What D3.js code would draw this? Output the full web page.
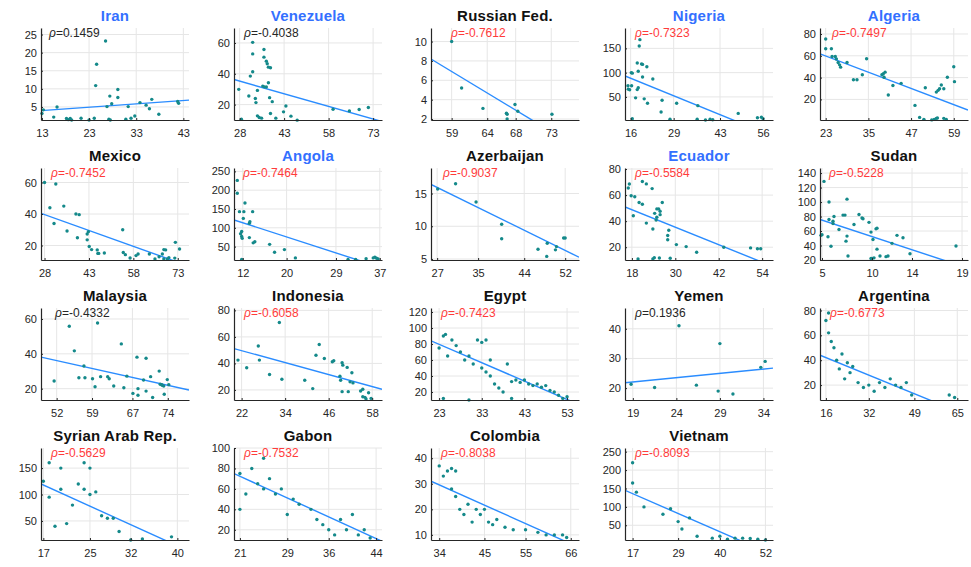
<!DOCTYPE html>
<html>
<head>
<meta charset="utf-8">
<script src="https://cdn.jsdelivr.net/npm/d3@7"></script>
<style>
  body { margin: 0; background: #fff; }
  svg { display: block; font-family: "Liberation Sans", Arial, Helvetica, sans-serif; }
</style>
</head>
<body>
<svg id="chart" width="971" height="567"></svg>
<script>
// ---- panel metadata ----
const countries = ["Iran", "Venezuela", "Russian Fed.", "Nigeria", "Algeria",
  "Mexico", "Angola", "Azerbaijan", "Ecuador", "Sudan",
  "Malaysia", "Indonesia", "Egypt", "Yemen", "Argentina",
  "Syrian Arab Rep.", "Gabon", "Colombia", "Vietnam"];
const opecMember = [true, true, false, true, true,
  false, true, false, true, false,
  false, false, false, false, false,
  false, false, false, false];
const rhoValues = ["0.1459", "-0.4038", "-0.7612", "-0.7323", "-0.7497",
  "-0.7452", "-0.7464", "-0.9037", "-0.5584", "-0.5228",
  "-0.4332", "-0.6058", "-0.7423", "0.1936", "-0.6773",
  "-0.5629", "-0.7532", "-0.8038", "-0.8093"];
const rhoSignificant = [false, false, true, true, true,
  true, true, true, true, true,
  false, true, true, false, true,
  true, true, true, true];

// ---- axis ticks and limits ----
const xTicks = [[13, 23, 33, 43], [28, 43, 58, 73], [59, 64, 68, 73], [16, 29, 43, 56], [23, 35, 47, 59],
  [28, 43, 58, 73], [12, 20, 29, 37], [27, 35, 44, 52], [18, 30, 42, 54], [5, 10, 14, 19],
  [52, 59, 67, 74], [22, 34, 46, 58], [23, 33, 43, 53], [19, 24, 29, 34], [16, 32, 49, 65],
  [17, 25, 32, 40], [21, 29, 36, 44], [34, 45, 55, 66], [17, 29, 40, 52]];
const yTicks = [[5, 10, 15, 20, 25], [20, 40, 60], [2, 4, 6, 8, 10], [50, 100, 150], [20, 40, 60, 80],
  [20, 40, 60], [50, 100, 150, 200, 250], [5, 10, 15], [20, 40, 60, 80], [20, 40, 60, 80, 100, 120, 140],
  [20, 40, 60], [20, 40, 60, 80], [20, 40, 60, 80, 100, 120], [20, 30, 40], [20, 40, 60, 80],
  [50, 100, 150], [20, 40, 60, 80, 100], [10, 20, 30, 40], [50, 100, 150, 200, 250]];
const xLimits = [[12.8, 44.2], [26.1, 76], [56.1, 76.9], [14.3, 59], [21.4, 63],
  [26.8, 76.8], [10.4, 37.4], [25.8, 54.7], [16.1, 57], [4.8, 19.6],
  [48.9, 78.2], [19.9, 60.7], [21.1, 55.8], [18.1, 35.1], [13.8, 69],
  [16.6, 42], [20, 45], [32, 68], [15, 54]];
const yLimits = [[1.4, 26.8], [10, 69.7], [1.9, 11.4], [2.4, 192], [1.1, 85.5],
  [10.8, 69.2], [14.4, 259], [4.85, 18.9], [10.2, 80.8], [20, 147],
  [13.5, 66.3], [12.4, 81.8], [10, 125], [16, 47], [8, 82],
  [14, 188], [10, 100], [8, 44], [10, 260]];

// ---- least-squares fit lines (value at left limit, slope) ----
const fitStart = [4.0, 36.3, 8.2, 93.2, 61.8,
  40.4, 121, 16.4, 50.9, 75.9,
  38.1, 51.2, 84, 21.8, 44,
  120, 75, 31, 145];
const fitSlope = [0.092, -0.547, -0.444, -2.78, -1.24,
  -0.671, -4.72, -0.385, -1.118, -4.54,
  -0.645, -0.752, -2.3, 0.29, -0.88,
  -5.0, -2.65, -0.72, -4.5];

// ---- observations per country [x, y] ----
const iran = [[13, 3.2], [13.3, 4.2], [16.2, 5.0], [15.5, 2.2], [18.2, 1.8], [18.6, 1.5], [19, 1.8], [19.3, 1.4],
  [21.3, 1.9], [23, 1.4], [24.1, 1.9], [24.6, 16.8], [24.4, 10.9], [26.5, 23.2], [27.4, 8.0], [26.8, 5.1],
  [27.8, 5.9], [27.2, 1.6], [27.5, 1.4], [29.1, 9.8], [29.1, 7.6], [30.8, 1.6], [31.3, 5.1], [31.9, 1.9],
  [32.7, 2.5], [33.8, 6.2], [35.1, 5.5], [35.8, 4.5], [36.3, 7.1], [37.8, 3.0], [41.8, 6.5], [42, 6.0]];
const venezuela = [[27.7, 29.9], [28.6, 10.5], [31.1, 25.6], [32.4, 60.4], [32.4, 52.9], [31.6, 38.5], [32.4, 41.3],
  [33.3, 24], [33.5, 21.3], [34, 29.2], [34, 12.7], [34.6, 11.6], [35.4, 11.2], [35.8, 32], [36.3, 31.5],
  [36.2, 55.7], [36.2, 50.8], [37, 48.2], [37.3, 46.5], [37.7, 44.3], [38.4, 43.9], [37, 31.4], [37.7, 34.2],
  [38.1, 24.5], [39, 21.9], [38.4, 14.2], [40.2, 11.2], [42.8, 15.3], [43.6, 19.1], [45.3, 12.5], [47.4, 9.9],
  [59.5, 17], [65, 15.9], [68.3, 16.8], [71.4, 18.1]];
const russia = [[59, 10], [60.4, 5.2], [63.4, 3.1], [66.7, 2.6], [66.8, 2.5], [66.8, 2.0], [67.9, 3.5], [68.3, 2.8], [73.1, 2.5]];
const nigeria = [[15.2, 73], [15.7, 64.6], [15.3, 66], [16.2, 100], [16.5, 99], [16.3, 73], [16.5, 5], [17.5, 48],
  [18, 65], [18.3, 69], [18, 120], [18.3, 103], [18.6, 155], [18.8, 168], [19.3, 118], [19.6, 117],
  [19.6, 91], [20.1, 46], [21.1, 37], [20.9, 112], [22.7, 87], [25.2, 19], [25.5, 43], [27.9, 4],
  [29.9, 37], [36.3, 32], [36.1, 4], [38.6, 2.5], [40, 4], [40.8, 3], [48.5, 16], [54.3, 7], [55.5, 8], [56, 5]];
const algeria = [[23, 75.4], [23, 66.4], [24.6, 66.4], [24.8, 59.4], [25.7, 59.4], [26, 57], [26.5, 53.9], [26.9, 51.7],
  [27.2, 49.6], [29, 53.9], [30.8, 38], [31.8, 38], [33.3, 42.6], [34.5, 57.3], [38.8, 42.6], [39.2, 43.5],
  [39.7, 45], [39.4, 40.3], [40.6, 24], [41.9, 32.8], [44.2, 34.7], [48.1, 14.5], [49.4, 3.5], [50.6, 1.7],
  [51, 30.7], [52.8, 1.2], [53.5, 1.7], [54.1, 2.6], [54.4, 3.0], [54.1, 26.7], [54.6, 28.3], [55, 29.8],
  [55.5, 33.2], [56.2, 29.8], [56.2, 2.6], [56.9, 1.7], [57.2, 40.3], [59, 50], [59.2, 36.3]];
const mexico = [[28, 60], [29.8, 44], [31.2, 34], [31.8, 59], [34.5, 45], [35.6, 29.2], [38.6, 40], [39.7, 39.6],
  [39.1, 24.9], [42.4, 23.6], [42.4, 27.3], [42.8, 28.8], [43.1, 19.4], [43.9, 17.4], [45.8, 17.2], [46, 15],
  [46.3, 15], [48.2, 15.2], [54.4, 30], [54.6, 15.6], [55.3, 14.2], [56.9, 12.1], [58.9, 13.6], [59.6, 14.6],
  [63.4, 14.6], [65.3, 11.4], [66.7, 12.9], [67.8, 14.6], [68.3, 17.4], [68.9, 17.2], [68.3, 11.4], [69.5, 11.4],
  [70, 12.3], [72.2, 22], [73.6, 17.8], [72, 12]];
const angola = [[11, 226], [11, 192], [11.4, 143], [11.8, 90], [11.6, 84], [11.8, 77], [11.9, 72], [11.8, 16],
  [12.2, 143], [12.1, 125], [12.4, 166], [13.2, 112], [13.3, 116], [13.2, 74], [13.8, 143], [13.9, 60],
  [14.2, 63], [16.9, 56], [17.8, 35], [19.6, 42], [21.6, 20], [31.2, 16], [32.6, 16], [34.5, 18],
  [35.8, 20], [36.1, 22], [36.4, 19], [36.7, 17]];
const azerbaijan = [[27.1, 15.7], [30.6, 16.5], [34.6, 13.7], [39.6, 10.3], [39.6, 8.1], [46.7, 6.5], [48.4, 5.4],
  [48.5, 7.4], [50.1, 6.4], [50.3, 6.9], [51.7, 8.2], [52, 8.2]];
const ecuador = [[17, 65.4], [17.3, 68.5], [17.8, 59.5], [18.8, 58.7], [18.4, 44.2], [19.7, 11], [20, 54.3], [20.9, 53],
  [20.9, 70.4], [22, 68.6], [22, 38.5], [23.6, 65], [23.8, 34], [23.8, 11], [24.2, 12], [24.3, 46],
  [24.7, 40.9], [24.9, 43], [24.9, 49.4], [25.4, 49.4], [25.6, 11.7], [25.8, 45], [25.8, 47.6], [26.4, 54.3],
  [27.9, 25.7], [27.9, 29], [28.2, 33], [28.6, 11.6], [30.3, 22], [33, 20.5], [35.9, 16.1], [43.4, 20],
  [50.8, 19.5], [52.7, 18.8], [53.6, 18.8]];
const sudan = [[5.2, 128.5], [5, 55], [4.9, 54], [5.7, 76], [5.6, 52], [5.7, 100], [5.9, 39], [6.1, 73.6],
  [6.2, 80], [6.1, 70.4], [6.7, 62], [7.1, 82], [7.3, 82], [7.4, 46], [7.5, 53], [7.5, 104],
  [7.6, 25.5], [8.2, 69], [8.7, 82.8], [9, 78], [9.1, 77], [9.7, 72], [9.9, 58.5], [10, 22],
  [9.9, 22], [10.1, 48.4], [10.4, 63], [10.5, 64], [10.5, 35], [10.2, 23], [10.8, 25.5], [11.4, 24.6],
  [11.6, 25.5], [12, 43], [12.5, 54], [13.1, 50.7], [13.8, 28.7], [18.4, 39.3]];
const malaysia = [[51.5, 24.4], [54.5, 55.8], [55.5, 41.7], [56.4, 26.3], [57.6, 26.3], [57.4, 33], [59.1, 25.7],
  [59.6, 21.1], [60.1, 57.7], [60.7, 26.9], [62.1, 26.9], [62.4, 25.7], [63.3, 21.5], [64.8, 45.7], [65.3, 20.5],
  [65.9, 27.2], [67.1, 17.3], [67.9, 38.1], [68.1, 20], [68.1, 16.2], [69.2, 25], [69.7, 37.5], [69.7, 18.6],
  [70.6, 26.9], [71, 14.9], [72.3, 30.1], [72.5, 22.5], [72.8, 22.3], [72.9, 21.9], [73.2, 21.5], [73.3, 16.8],
  [73.9, 25.2], [74.2, 22.3]];
const indonesia = [[21, 42.5], [23.4, 36.7], [26.6, 53.1], [26.9, 42.5], [29.7, 31.6], [32.4, 70.9], [33.1, 28.1],
  [39.4, 27.3], [41.6, 21], [42.5, 46.2], [43.4, 54.3], [44.8, 43.7], [47, 41.2], [47.4, 42], [49.1, 30.4],
  [49.3, 27.3], [49.7, 40.5], [49.9, 38.7], [49.7, 18.7], [51.1, 37], [51.4, 18.7], [51.9, 26.1], [52.4, 33],
  [52.7, 25.3], [54.8, 19.2], [55.4, 20.5], [55.4, 14.9], [56, 14.4], [56.3, 13.2], [57, 17.9], [57.7, 13.6]];
const egypt = [[23, 75], [24, 90], [24.5, 92], [25, 65], [26, 85], [27, 78], [28, 70], [29, 60], [30, 65], [31, 55],
  [32, 85], [33, 82], [33, 50], [34, 85], [34, 45], [35, 40], [35, 60], [36, 30], [37, 25], [38, 20],
  [39, 55], [40, 33], [41, 35], [42, 32], [43, 35], [44, 30], [45, 28], [46, 30], [47, 26], [48, 28],
  [49, 22], [50, 20], [51, 16], [52, 12], [53, 14], [24, 12], [30, 10], [40, 12]];
const yemen = [[18.8, 21.3], [21.5, 20.2], [24.3, 41], [26.3, 21], [28.8, 19], [29, 35], [30.5, 18], [33.7, 27], [34.2, 29]];
const argentina = [[16, 72], [17, 62], [17, 78], [18, 55], [19, 50], [20, 40], [21, 33], [22, 45], [23, 25], [24, 38],
  [25, 30], [26, 35], [28, 22], [30, 18], [32, 20], [34, 15], [36, 22], [38, 18], [40, 25], [42, 20],
  [44, 18], [46, 22], [48, 12], [62, 12], [64, 10]];
const syria = [[17, 125], [18, 160], [18, 95], [19, 40], [20, 150], [20, 110], [21, 45], [22, 80], [23, 120], [24, 110],
  [24, 160], [25, 150], [25, 100], [26, 105], [27, 60], [28, 55], [29, 55], [30, 30], [32, 14], [34, 16], [39, 20]];
const gabon = [[21, 75], [21, 40], [22, 55], [23, 80], [24, 65], [25, 90], [25, 60], [26, 70], [27, 55], [28, 60],
  [29, 35], [30, 50], [31, 45], [33, 40], [34, 30], [35, 25], [36, 20], [37, 15], [38, 30], [39, 20],
  [40, 35], [41, 15], [42, 20], [43, 12]];
const colombia = [[34, 37], [35, 33], [36, 35], [37, 36], [38, 35], [37, 28], [38, 25], [39, 20], [40, 18], [41, 22],
  [42, 15], [43, 20], [44, 18], [45, 20], [46, 15], [47, 14], [48, 16], [50, 13], [52, 12], [55, 12],
  [58, 11], [60, 10], [62, 10], [64, 10], [65, 9]];
const vietnam = [[17, 220], [17, 165], [18, 140], [20, 100], [25, 80], [27, 95], [29, 60], [30, 40], [32, 70], [34, 20],
  [38, 15], [40, 20], [42, 12], [44, 15], [46, 15], [48, 14], [50, 12], [52, 10]];

const observations = [iran, venezuela, russia, nigeria, algeria,
  mexico, angola, azerbaijan, ecuador, sudan,
  malaysia, indonesia, egypt, yemen, argentina,
  syria, gabon, colombia, vietnam];

// ---- layout ----
const colLeft = [41, 234, 431, 625, 820];
const rowTop = [28, 168, 308, 448];
const plotW = 148, plotH = 92;
const rhoInset = [8, 10, 20, 10, 12, 10, 9, 12, 10, 9, 14, 10, 10, 10, 10, 10, 10, 10, 10];

const colors = {
  axis: "#262626", grid: "#e6e6e6", dot: "#14898a", fit: "#2a8cff",
  titleOpec: "#3370ff", titleOther: "#111", rhoSig: "#ff3b3b", rhoPlain: "#262626"
};

const svg = d3.select("#chart");
const fmt = d3.format("d");

countries.forEach((name, i) => {
  const col = i % 5, row = Math.floor(i / 5);
  const g = svg.append("g").attr("transform", `translate(${colLeft[col]},${rowTop[row]})`);
  const x = d3.scaleLinear().domain(xLimits[i]).range([0, plotW]);
  const y = d3.scaleLinear().domain(yLimits[i]).range([plotH, 0]);

  // grid lines
  g.append("g").selectAll("line").data(xTicks[i]).join("line")
    .attr("x1", d => x(d)).attr("x2", d => x(d)).attr("y1", 0).attr("y2", plotH)
    .attr("stroke", colors.grid).attr("stroke-width", 1);
  g.append("g").selectAll("line").data(yTicks[i]).join("line")
    .attr("y1", d => y(d)).attr("y2", d => y(d)).attr("x1", 0).attr("x2", plotW)
    .attr("stroke", colors.grid).attr("stroke-width", 1);

  // fit line, clipped to the axes box
  const clipId = `clip${i}`;
  g.append("clipPath").attr("id", clipId).append("rect").attr("width", plotW).attr("height", plotH);
  const [xa, xb] = xLimits[i];
  const fitPts = [[xa, fitStart[i]], [xb, fitStart[i] + fitSlope[i] * (xb - xa)]];
  g.append("path").attr("clip-path", `url(#${clipId})`)
    .attr("d", d3.line().x(d => x(d[0])).y(d => y(d[1]))(fitPts))
    .attr("fill", "none").attr("stroke", colors.fit).attr("stroke-width", 1.4);

  // observations
  g.append("g").selectAll("circle").data(observations[i]).join("circle")
    .attr("cx", d => x(d[0])).attr("cy", d => y(d[1])).attr("r", 1.7)
    .attr("fill", colors.dot);

  // axes
  const xAxis = d3.axisBottom(x).tickValues(xTicks[i]).tickFormat(fmt).tickSize(-2).tickSizeOuter(0).tickPadding(9);
  const yAxis = d3.axisLeft(y).tickValues(yTicks[i]).tickFormat(fmt).tickSize(-2).tickSizeOuter(0).tickPadding(4);
  const gx = g.append("g").attr("transform", `translate(0,${plotH})`).call(xAxis);
  const gy = g.append("g").call(yAxis);
  [gx, gy].forEach(a => {
    a.select(".domain").attr("stroke", colors.axis).attr("stroke-width", 1.2);
    a.selectAll(".tick line").attr("stroke", colors.axis);
    a.selectAll(".tick text").attr("fill", colors.axis).attr("font-size", 11)
      .attr("font-family", "Liberation Sans, Arial, sans-serif");
  });

  // correlation label
  const t = g.append("text").attr("x", rhoInset[i]).attr("y", 9)
    .attr("font-size", 12)
    .attr("fill", rhoSignificant[i] ? colors.rhoSig : colors.rhoPlain);
  t.append("tspan").attr("font-style", "italic").text("ρ");
  t.append("tspan").text("=" + rhoValues[i]);

  // title
  g.append("text").attr("x", plotW / 2).attr("y", -7)
    .attr("text-anchor", "middle").attr("font-size", 15).attr("font-weight", "bold")
    .attr("letter-spacing", 0.2)
    .attr("fill", opecMember[i] ? colors.titleOpec : colors.titleOther)
    .text(name);
});
</script>
</body>
</html>
